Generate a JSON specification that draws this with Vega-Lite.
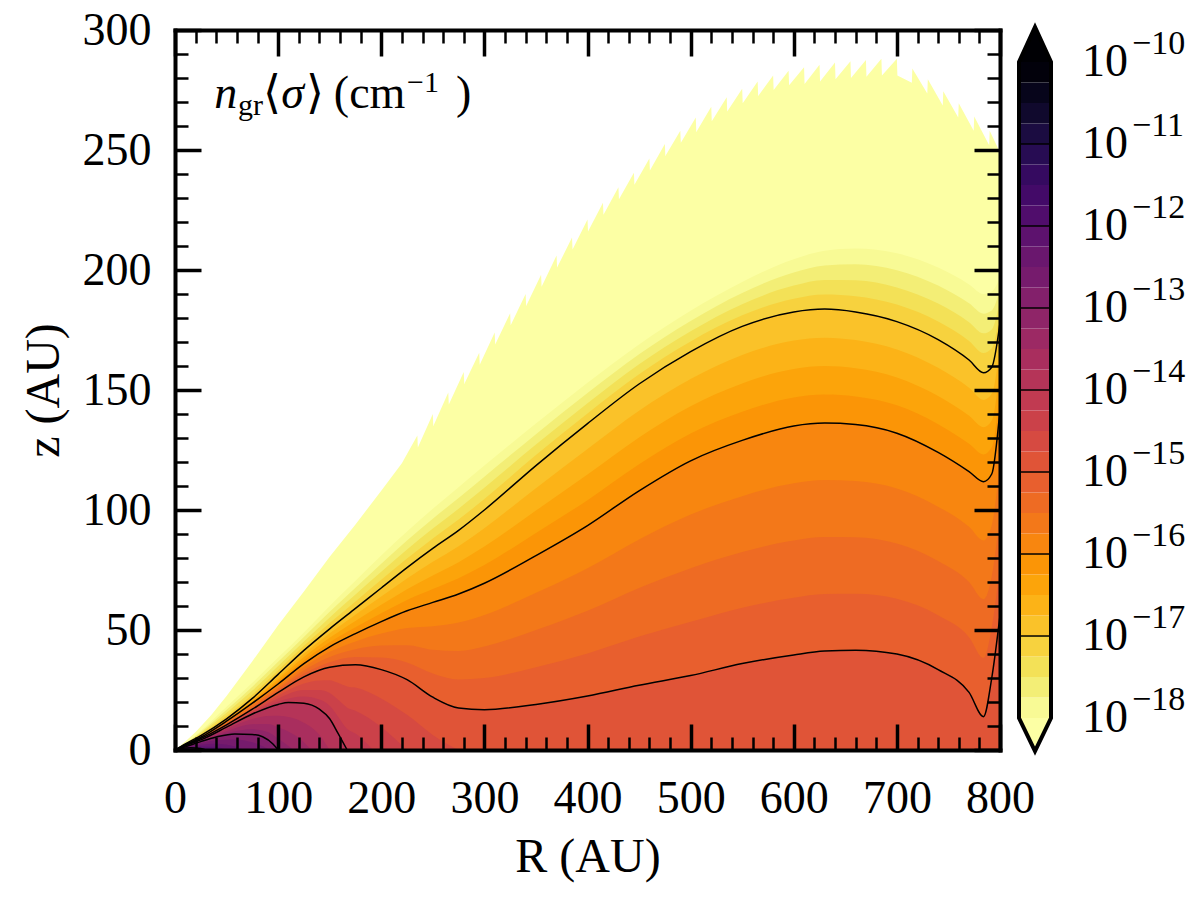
{
"$schema":"https://vega.github.io/schema/vega-lite/v6.json",
"background":"white",
"padding":{"left":20,"top":7,"right":5,"bottom":5},
"config":{"view":{"stroke":null},"font":"Liberation Serif","axis":{"grid":false,"labelColor":"black","titleColor":"black","titleFontWeight":"normal","labelFont":"Liberation Serif","titleFont":"Liberation Serif","domainColor":"black","tickColor":"black"}},
"datasets":{
"edge":[{"R":0,"z":0},{"R":10,"z":3.5},{"R":20,"z":7.5},{"R":35,"z":14.5},{"R":50,"z":22.5},{"R":75,"z":37},{"R":100,"z":52},{"R":125,"z":66},{"R":150,"z":80.5},{"R":175,"z":94},{"R":200,"z":108},{"R":220,"z":119.5},
{"R":235,"z":131},{"R":235.5,"z":126},{"R":250,"z":140},{"R":250.5,"z":135},{"R":265,"z":149},{"R":265.5,"z":144},{"R":280,"z":157.5},{"R":280.5,"z":152.5},{"R":295,"z":165.5},{"R":295.5,"z":160.5},{"R":310,"z":174},{"R":310.5,"z":169},{"R":325,"z":182},{"R":325.5,"z":177},{"R":340,"z":190},{"R":340.5,"z":185},{"R":355,"z":198},{"R":355.5,"z":193},{"R":370,"z":206},{"R":370.5,"z":201},{"R":385,"z":213.5},{"R":385.5,"z":208.5},{"R":400,"z":221},{"R":400.5,"z":216},{"R":415,"z":228},{"R":415.5,"z":223},{"R":430,"z":234.5},{"R":430.5,"z":229.5},{"R":445,"z":240.5},{"R":445.5,"z":235.5},{"R":460,"z":246.5},{"R":460.5,"z":241.5},{"R":475,"z":252.5},{"R":475.5,"z":247.5},{"R":490,"z":258},{"R":490.5,"z":253},{"R":505,"z":263.5},{"R":505.5,"z":257.5},{"R":520,"z":268},{"R":520.5,"z":262},{"R":535,"z":272},{"R":535.5,"z":266},{"R":550,"z":275.5},{"R":550.5,"z":269.5},{"R":565,"z":278.5},{"R":565.5,"z":272.5},{"R":580,"z":281},{"R":580.5,"z":275},{"R":595,"z":283},{"R":595.5,"z":277},{"R":610,"z":284.5},{"R":610.5,"z":277.5},{"R":625,"z":285.5},{"R":625.5,"z":278.5},{"R":640,"z":286.5},{"R":640.5,"z":279.5},{"R":655,"z":287},{"R":655.5,"z":280},{"R":670,"z":287.5},{"R":670.5,"z":280.5},{"R":685,"z":288},{"R":685.5,"z":281},{"R":700,"z":288},{"R":700.5,"z":281},
{"R":714.5,"z":278},{"R":715,"z":284},{"R":729.5,"z":273.5},{"R":730,"z":279.5},{"R":744.5,"z":268.5},{"R":745,"z":274.5},{"R":759.5,"z":263.5},{"R":760,"z":269.5},{"R":774.5,"z":258},{"R":775,"z":264},{"R":789.5,"z":252},{"R":790,"z":258},{"R":800,"z":249}],
"lv":[
{"lev":-18,"R":0,"z":0},{"lev":-18,"R":10,"z":2.7},{"lev":-18,"R":25,"z":8},{"lev":-18,"R":50,"z":18},{"lev":-18,"R":75,"z":28},{"lev":-18,"R":100,"z":38.5},{"lev":-18,"R":125,"z":49},{"lev":-18,"R":150,"z":60},{"lev":-18,"R":175,"z":70.5},{"lev":-18,"R":200,"z":81},{"lev":-18,"R":225,"z":91},{"lev":-18,"R":250,"z":100.5},{"lev":-18,"R":275,"z":109.5},{"lev":-18,"R":300,"z":118.5},{"lev":-18,"R":350,"z":136},{"lev":-18,"R":400,"z":153},{"lev":-18,"R":450,"z":169},{"lev":-18,"R":500,"z":183},{"lev":-18,"R":550,"z":195},{"lev":-18,"R":600,"z":204.5},{"lev":-18,"R":630,"z":208},{"lev":-18,"R":660,"z":209},{"lev":-18,"R":700,"z":207},{"lev":-18,"R":740,"z":201},{"lev":-18,"R":770,"z":194},{"lev":-18,"R":784,"z":190},{"lev":-18,"R":792,"z":191},{"lev":-18,"R":800,"z":197},
{"lev":-17.75,"R":0,"z":0},{"lev":-17.75,"R":10,"z":2.65},{"lev":-17.75,"R":25,"z":7.5},{"lev":-17.75,"R":50,"z":16.75},{"lev":-17.75,"R":75,"z":26.4},{"lev":-17.75,"R":100,"z":36.75},{"lev":-17.75,"R":125,"z":47.1},{"lev":-17.75,"R":150,"z":57.6},{"lev":-17.75,"R":175,"z":67.6},{"lev":-17.75,"R":200,"z":77.6},{"lev":-17.75,"R":225,"z":87.25},{"lev":-17.75,"R":250,"z":96.4},{"lev":-17.75,"R":275,"z":105},{"lev":-17.75,"R":300,"z":113.9},{"lev":-17.75,"R":350,"z":131.6},{"lev":-17.75,"R":400,"z":148.75},{"lev":-17.75,"R":450,"z":164.9},{"lev":-17.75,"R":500,"z":178.75},{"lev":-17.75,"R":550,"z":190.4},{"lev":-17.75,"R":600,"z":199},{"lev":-17.75,"R":630,"z":201.9},{"lev":-17.75,"R":660,"z":202.4},{"lev":-17.75,"R":700,"z":199.9},{"lev":-17.75,"R":740,"z":193.5},{"lev":-17.75,"R":770,"z":186.1},{"lev":-17.75,"R":784,"z":181.8},{"lev":-17.75,"R":792,"z":183.1},{"lev":-17.75,"R":800,"z":192.25},
{"lev":-17.5,"R":0,"z":0},{"lev":-17.5,"R":10,"z":2.6},{"lev":-17.5,"R":25,"z":7},{"lev":-17.5,"R":50,"z":15.5},{"lev":-17.5,"R":75,"z":24.75},{"lev":-17.5,"R":100,"z":35},{"lev":-17.5,"R":125,"z":45.25},{"lev":-17.5,"R":150,"z":55.25},{"lev":-17.5,"R":175,"z":64.75},{"lev":-17.5,"R":200,"z":74.25},{"lev":-17.5,"R":225,"z":83.5},{"lev":-17.5,"R":250,"z":92.25},{"lev":-17.5,"R":275,"z":100.5},{"lev":-17.5,"R":300,"z":109.25},{"lev":-17.5,"R":350,"z":127.25},{"lev":-17.5,"R":400,"z":144.5},{"lev":-17.5,"R":450,"z":160.75},{"lev":-17.5,"R":500,"z":174.5},{"lev":-17.5,"R":550,"z":185.75},{"lev":-17.5,"R":600,"z":193.5},{"lev":-17.5,"R":630,"z":195.85},{"lev":-17.5,"R":660,"z":195.75},{"lev":-17.5,"R":700,"z":192.75},{"lev":-17.5,"R":740,"z":186},{"lev":-17.5,"R":770,"z":178.25},{"lev":-17.5,"R":784,"z":173.6},{"lev":-17.5,"R":792,"z":175.25},{"lev":-17.5,"R":800,"z":187.5},
{"lev":-17.25,"R":0,"z":0},{"lev":-17.25,"R":10,"z":2.55},{"lev":-17.25,"R":25,"z":6.5},{"lev":-17.25,"R":50,"z":14.25},{"lev":-17.25,"R":75,"z":23.1},{"lev":-17.25,"R":100,"z":33.25},{"lev":-17.25,"R":125,"z":43.4},{"lev":-17.25,"R":150,"z":52.9},{"lev":-17.25,"R":175,"z":61.9},{"lev":-17.25,"R":200,"z":70.9},{"lev":-17.25,"R":225,"z":79.75},{"lev":-17.25,"R":250,"z":88.1},{"lev":-17.25,"R":275,"z":96},{"lev":-17.25,"R":300,"z":104.6},{"lev":-17.25,"R":350,"z":122.9},{"lev":-17.25,"R":400,"z":140.25},{"lev":-17.25,"R":450,"z":156.6},{"lev":-17.25,"R":500,"z":170.25},{"lev":-17.25,"R":550,"z":181.1},{"lev":-17.25,"R":600,"z":188},{"lev":-17.25,"R":630,"z":189.8},{"lev":-17.25,"R":660,"z":189.1},{"lev":-17.25,"R":700,"z":185.6},{"lev":-17.25,"R":740,"z":178.5},{"lev":-17.25,"R":770,"z":170.4},{"lev":-17.25,"R":784,"z":165.4},{"lev":-17.25,"R":792,"z":167.4},{"lev":-17.25,"R":800,"z":182.75},
{"lev":-17,"R":0,"z":0},{"lev":-17,"R":10,"z":2.5},{"lev":-17,"R":25,"z":6},{"lev":-17,"R":50,"z":13},{"lev":-17,"R":75,"z":21.5},{"lev":-17,"R":100,"z":31.5},{"lev":-17,"R":125,"z":41.5},{"lev":-17,"R":150,"z":50.5},{"lev":-17,"R":175,"z":59},{"lev":-17,"R":200,"z":67.5},{"lev":-17,"R":225,"z":76},{"lev":-17,"R":250,"z":84},{"lev":-17,"R":275,"z":91.5},{"lev":-17,"R":300,"z":100},{"lev":-17,"R":350,"z":118.5},{"lev":-17,"R":400,"z":136},{"lev":-17,"R":450,"z":152.5},{"lev":-17,"R":500,"z":166},{"lev":-17,"R":550,"z":176.5},{"lev":-17,"R":600,"z":182.5},{"lev":-17,"R":630,"z":183.7},{"lev":-17,"R":660,"z":182.5},{"lev":-17,"R":700,"z":178.5},{"lev":-17,"R":740,"z":171},{"lev":-17,"R":770,"z":162.5},{"lev":-17,"R":784,"z":157.2},{"lev":-17,"R":792,"z":159.5},{"lev":-17,"R":800,"z":178},
{"lev":-16.75,"R":0,"z":0},{"lev":-16.75,"R":10,"z":2.43},{"lev":-16.75,"R":25,"z":5.83},{"lev":-16.75,"R":50,"z":12.75},{"lev":-16.75,"R":75,"z":21},{"lev":-16.75,"R":100,"z":30.5},{"lev":-16.75,"R":125,"z":40.1},{"lev":-16.75,"R":150,"z":48.6},{"lev":-16.75,"R":175,"z":56.4},{"lev":-16.75,"R":200,"z":64},{"lev":-16.75,"R":225,"z":71.5},{"lev":-16.75,"R":250,"z":78.4},{"lev":-16.75,"R":275,"z":84.9},{"lev":-16.75,"R":300,"z":92.4},{"lev":-16.75,"R":350,"z":109.1},{"lev":-16.75,"R":400,"z":125.4},{"lev":-16.75,"R":450,"z":141.4},{"lev":-16.75,"R":500,"z":154.6},{"lev":-16.75,"R":550,"z":164.6},{"lev":-16.75,"R":600,"z":170.6},{"lev":-16.75,"R":630,"z":171.8},{"lev":-16.75,"R":660,"z":170.8},{"lev":-16.75,"R":700,"z":166.9},{"lev":-16.75,"R":740,"z":159.25},{"lev":-16.75,"R":770,"z":150.9},{"lev":-16.75,"R":784,"z":145.85},{"lev":-16.75,"R":792,"z":148.4},{"lev":-16.75,"R":800,"z":169},
{"lev":-16.5,"R":0,"z":0},{"lev":-16.5,"R":10,"z":2.35},{"lev":-16.5,"R":25,"z":5.65},{"lev":-16.5,"R":50,"z":12.5},{"lev":-16.5,"R":75,"z":20.5},{"lev":-16.5,"R":100,"z":29.5},{"lev":-16.5,"R":125,"z":38.75},{"lev":-16.5,"R":150,"z":46.75},{"lev":-16.5,"R":175,"z":53.75},{"lev":-16.5,"R":200,"z":60.5},{"lev":-16.5,"R":225,"z":67},{"lev":-16.5,"R":250,"z":72.75},{"lev":-16.5,"R":275,"z":78.25},{"lev":-16.5,"R":300,"z":84.75},{"lev":-16.5,"R":350,"z":99.75},{"lev":-16.5,"R":400,"z":114.75},{"lev":-16.5,"R":450,"z":130.25},{"lev":-16.5,"R":500,"z":143.25},{"lev":-16.5,"R":550,"z":152.75},{"lev":-16.5,"R":600,"z":158.75},{"lev":-16.5,"R":630,"z":159.95},{"lev":-16.5,"R":660,"z":159.05},{"lev":-16.5,"R":700,"z":155.25},{"lev":-16.5,"R":740,"z":147.5},{"lev":-16.5,"R":770,"z":139.25},{"lev":-16.5,"R":784,"z":134.5},{"lev":-16.5,"R":792,"z":137.25},{"lev":-16.5,"R":800,"z":160},
{"lev":-16.25,"R":0,"z":0},{"lev":-16.25,"R":10,"z":2.28},{"lev":-16.25,"R":25,"z":5.48},{"lev":-16.25,"R":50,"z":12.25},{"lev":-16.25,"R":75,"z":20},{"lev":-16.25,"R":100,"z":28.5},{"lev":-16.25,"R":125,"z":37.4},{"lev":-16.25,"R":150,"z":44.9},{"lev":-16.25,"R":175,"z":51.1},{"lev":-16.25,"R":200,"z":57},{"lev":-16.25,"R":225,"z":62.5},{"lev":-16.25,"R":250,"z":67.1},{"lev":-16.25,"R":275,"z":71.6},{"lev":-16.25,"R":300,"z":77.1},{"lev":-16.25,"R":350,"z":90.4},{"lev":-16.25,"R":400,"z":104.1},{"lev":-16.25,"R":450,"z":119.1},{"lev":-16.25,"R":500,"z":131.9},{"lev":-16.25,"R":550,"z":140.9},{"lev":-16.25,"R":600,"z":146.9},{"lev":-16.25,"R":630,"z":148.1},{"lev":-16.25,"R":660,"z":147.3},{"lev":-16.25,"R":700,"z":143.6},{"lev":-16.25,"R":740,"z":135.75},{"lev":-16.25,"R":770,"z":127.6},{"lev":-16.25,"R":784,"z":123.15},{"lev":-16.25,"R":792,"z":126.1},{"lev":-16.25,"R":800,"z":151},
{"lev":-16,"R":0,"z":0},{"lev":-16,"R":10,"z":2.2},{"lev":-16,"R":25,"z":5.3},{"lev":-16,"R":50,"z":12},{"lev":-16,"R":75,"z":19.5},{"lev":-16,"R":100,"z":27.5},{"lev":-16,"R":125,"z":36},{"lev":-16,"R":150,"z":43},{"lev":-16,"R":175,"z":48.5},{"lev":-16,"R":200,"z":53.5},{"lev":-16,"R":225,"z":58},{"lev":-16,"R":250,"z":61.5},{"lev":-16,"R":275,"z":65},{"lev":-16,"R":300,"z":69.5},{"lev":-16,"R":350,"z":81},{"lev":-16,"R":400,"z":93.5},{"lev":-16,"R":450,"z":108},{"lev":-16,"R":500,"z":120.5},{"lev":-16,"R":550,"z":129},{"lev":-16,"R":600,"z":135},{"lev":-16,"R":630,"z":136.2},{"lev":-16,"R":660,"z":135.6},{"lev":-16,"R":700,"z":132},{"lev":-16,"R":740,"z":124},{"lev":-16,"R":770,"z":116},{"lev":-16,"R":784,"z":111.8},{"lev":-16,"R":792,"z":115},{"lev":-16,"R":800,"z":142},
{"lev":-15.75,"R":0,"z":0},{"lev":-15.75,"R":10,"z":2.15},{"lev":-15.75,"R":25,"z":5.18},{"lev":-15.75,"R":50,"z":11.6},{"lev":-15.75,"R":75,"z":18.9},{"lev":-15.75,"R":100,"z":26.6},{"lev":-15.75,"R":125,"z":34.6},{"lev":-15.75,"R":150,"z":40.9},{"lev":-15.75,"R":175,"z":45.25},{"lev":-15.75,"R":200,"z":48.5},{"lev":-15.75,"R":225,"z":50.8},{"lev":-15.75,"R":250,"z":51.6},{"lev":-15.75,"R":275,"z":53.1},{"lev":-15.75,"R":300,"z":56.3},{"lev":-15.75,"R":350,"z":65.5},{"lev":-15.75,"R":400,"z":75.75},{"lev":-15.75,"R":450,"z":87.75},{"lev":-15.75,"R":500,"z":98.1},{"lev":-15.75,"R":550,"z":105.75},{"lev":-15.75,"R":600,"z":111.15},{"lev":-15.75,"R":630,"z":112.45},{"lev":-15.75,"R":660,"z":112.1},{"lev":-15.75,"R":700,"z":109},{"lev":-15.75,"R":740,"z":101.4},{"lev":-15.75,"R":770,"z":93},{"lev":-15.75,"R":784,"z":87.3},{"lev":-15.75,"R":792,"z":93.75},{"lev":-15.75,"R":800,"z":120.5},
{"lev":-15.5,"R":0,"z":0},{"lev":-15.5,"R":10,"z":2.1},{"lev":-15.5,"R":25,"z":5.05},{"lev":-15.5,"R":50,"z":11.25},{"lev":-15.5,"R":75,"z":18.25},{"lev":-15.5,"R":100,"z":25.75},{"lev":-15.5,"R":125,"z":33.25},{"lev":-15.5,"R":150,"z":38.75},{"lev":-15.5,"R":175,"z":42},{"lev":-15.5,"R":200,"z":43.5},{"lev":-15.5,"R":225,"z":43.65},{"lev":-15.5,"R":250,"z":41.75},{"lev":-15.5,"R":275,"z":41.25},{"lev":-15.5,"R":300,"z":43.15},{"lev":-15.5,"R":350,"z":50},{"lev":-15.5,"R":400,"z":58},{"lev":-15.5,"R":450,"z":67.5},{"lev":-15.5,"R":500,"z":75.75},{"lev":-15.5,"R":550,"z":82.5},{"lev":-15.5,"R":600,"z":87.3},{"lev":-15.5,"R":630,"z":88.7},{"lev":-15.5,"R":660,"z":88.6},{"lev":-15.5,"R":700,"z":86},{"lev":-15.5,"R":740,"z":78.75},{"lev":-15.5,"R":770,"z":70},{"lev":-15.5,"R":784,"z":62.85},{"lev":-15.5,"R":792,"z":72.5},{"lev":-15.5,"R":800,"z":99},
{"lev":-15.25,"R":0,"z":0},{"lev":-15.25,"R":10,"z":2.05},{"lev":-15.25,"R":25,"z":4.93},{"lev":-15.25,"R":50,"z":10.9},{"lev":-15.25,"R":75,"z":17.6},{"lev":-15.25,"R":100,"z":24.9},{"lev":-15.25,"R":125,"z":31.9},{"lev":-15.25,"R":150,"z":36.6},{"lev":-15.25,"R":175,"z":38.75},{"lev":-15.25,"R":200,"z":38.5},{"lev":-15.25,"R":225,"z":36.5},{"lev":-15.25,"R":250,"z":31.9},{"lev":-15.25,"R":275,"z":29.4},{"lev":-15.25,"R":300,"z":30},{"lev":-15.25,"R":350,"z":34.5},{"lev":-15.25,"R":400,"z":40.25},{"lev":-15.25,"R":450,"z":47.25},{"lev":-15.25,"R":500,"z":53.4},{"lev":-15.25,"R":550,"z":59.25},{"lev":-15.25,"R":600,"z":63.45},{"lev":-15.25,"R":630,"z":64.95},{"lev":-15.25,"R":660,"z":65.1},{"lev":-15.25,"R":700,"z":63},{"lev":-15.25,"R":740,"z":56.1},{"lev":-15.25,"R":770,"z":47},{"lev":-15.25,"R":784,"z":38.4},{"lev":-15.25,"R":792,"z":51.25},{"lev":-15.25,"R":800,"z":77.5},
{"lev":-15,"R":0,"z":0},{"lev":-15,"R":10,"z":2},{"lev":-15,"R":25,"z":4.8},{"lev":-15,"R":50,"z":10.5},{"lev":-15,"R":75,"z":17},{"lev":-15,"R":100,"z":24},{"lev":-15,"R":125,"z":30.5},{"lev":-15,"R":150,"z":34.5},{"lev":-15,"R":175,"z":35.5},{"lev":-15,"R":200,"z":33.5},{"lev":-15,"R":225,"z":29.3},{"lev":-15,"R":250,"z":22},{"lev":-15,"R":275,"z":17.5},{"lev":-15,"R":300,"z":16.8},{"lev":-15,"R":350,"z":19},{"lev":-15,"R":400,"z":22.5},{"lev":-15,"R":450,"z":27},{"lev":-15,"R":500,"z":31},{"lev":-15,"R":550,"z":36},{"lev":-15,"R":600,"z":39.6},{"lev":-15,"R":630,"z":41.2},{"lev":-15,"R":660,"z":41.6},{"lev":-15,"R":700,"z":40},{"lev":-15,"R":740,"z":33.5},{"lev":-15,"R":770,"z":24},{"lev":-15,"R":784,"z":13.9},{"lev":-15,"R":792,"z":30},{"lev":-15,"R":800,"z":56},
{"lev":-14.75,"R":0,"z":0},{"lev":-14.75,"R":10,"z":1.95},{"lev":-14.75,"R":25,"z":4.65},{"lev":-14.75,"R":50,"z":10.25},{"lev":-14.75,"R":75,"z":16.5},{"lev":-14.75,"R":100,"z":22.75},{"lev":-14.75,"R":125,"z":27.75},{"lev":-14.75,"R":140,"z":29},{"lev":-14.75,"R":150,"z":29.1},{"lev":-14.75,"R":158,"z":28},{"lev":-14.75,"R":167,"z":26.5},{"lev":-14.75,"R":175,"z":26},{"lev":-14.75,"R":200,"z":21.5},{"lev":-14.75,"R":225,"z":14.65},{"lev":-14.75,"R":250,"z":6.3},{"lev":-14.75,"R":275,"z":0},
{"lev":-14.5,"R":0,"z":0},{"lev":-14.5,"R":10,"z":1.9},{"lev":-14.5,"R":25,"z":4.5},{"lev":-14.5,"R":50,"z":10},{"lev":-14.5,"R":75,"z":16},{"lev":-14.5,"R":100,"z":21.5},{"lev":-14.5,"R":125,"z":25},{"lev":-14.5,"R":140,"z":25},{"lev":-14.5,"R":150,"z":23.75},{"lev":-14.5,"R":158,"z":21},{"lev":-14.5,"R":167,"z":17.65},{"lev":-14.5,"R":175,"z":16.4},{"lev":-14.5,"R":200,"z":9.6},{"lev":-14.5,"R":225,"z":0},
{"lev":-14.25,"R":0,"z":0},{"lev":-14.25,"R":10,"z":1.85},{"lev":-14.25,"R":25,"z":4.35},{"lev":-14.25,"R":50,"z":9.75},{"lev":-14.25,"R":75,"z":15.5},{"lev":-14.25,"R":100,"z":20.25},{"lev":-14.25,"R":125,"z":22.25},{"lev":-14.25,"R":140,"z":21},{"lev":-14.25,"R":150,"z":18.4},{"lev":-14.25,"R":158,"z":14},{"lev":-14.25,"R":167,"z":8.8},{"lev":-14.25,"R":175,"z":6.9},{"lev":-14.25,"R":192,"z":0},
{"lev":-14,"R":0,"z":0},{"lev":-14,"R":10,"z":1.8},{"lev":-14,"R":25,"z":4.2},{"lev":-14,"R":50,"z":9.5},{"lev":-14,"R":75,"z":15},{"lev":-14,"R":100,"z":19},{"lev":-14,"R":110,"z":19.8},{"lev":-14,"R":125,"z":19.5},{"lev":-14,"R":140,"z":17},{"lev":-14,"R":150,"z":13},{"lev":-14,"R":158,"z":7},{"lev":-14,"R":167,"z":0},
{"lev":-13.75,"R":0,"z":0},{"lev":-13.75,"R":10,"z":1.68},{"lev":-13.75,"R":25,"z":4.03},{"lev":-13.75,"R":50,"z":8.7},{"lev":-13.75,"R":75,"z":12.9},{"lev":-13.75,"R":90,"z":14.2},{"lev":-13.75,"R":100,"z":14.25},{"lev":-13.75,"R":125,"z":11.4},{"lev":-13.75,"R":140,"z":6.4},{"lev":-13.75,"R":150,"z":0},
{"lev":-13.5,"R":0,"z":0},{"lev":-13.5,"R":10,"z":1.55},{"lev":-13.5,"R":25,"z":3.85},{"lev":-13.5,"R":50,"z":7.85},{"lev":-13.5,"R":75,"z":10.75},{"lev":-13.5,"R":90,"z":10.85},{"lev":-13.5,"R":100,"z":9.5},{"lev":-13.5,"R":125,"z":3.25},{"lev":-13.5,"R":132,"z":0},
{"lev":-13.25,"R":0,"z":0},{"lev":-13.25,"R":10,"z":1.43},{"lev":-13.25,"R":25,"z":3.68},{"lev":-13.25,"R":50,"z":7},{"lev":-13.25,"R":75,"z":8.6},{"lev":-13.25,"R":90,"z":7.5},{"lev":-13.25,"R":100,"z":4.75},{"lev":-13.25,"R":115,"z":0},
{"lev":-13,"R":0,"z":0},{"lev":-13,"R":10,"z":1.3},{"lev":-13,"R":25,"z":3.5},{"lev":-13,"R":40,"z":5.4},{"lev":-13,"R":58,"z":6.7},{"lev":-13,"R":75,"z":6.5},{"lev":-13,"R":85,"z":5.5},{"lev":-13,"R":95,"z":2.5},{"lev":-13,"R":100,"z":0},
{"lev":-12.75,"R":0,"z":0},{"lev":-12.75,"R":10,"z":1.1},{"lev":-12.75,"R":25,"z":2.9},{"lev":-12.75,"R":40,"z":4.1},{"lev":-12.75,"R":58,"z":4.4},{"lev":-12.75,"R":75,"z":3.2},{"lev":-12.75,"R":85,"z":1.6},{"lev":-12.75,"R":92,"z":0},
{"lev":-12.5,"R":0,"z":0},{"lev":-12.5,"R":10,"z":0.95},{"lev":-12.5,"R":25,"z":2.2},{"lev":-12.5,"R":40,"z":2.6},{"lev":-12.5,"R":58,"z":1.5},{"lev":-12.5,"R":68,"z":0},
{"lev":-12.25,"R":0,"z":0},{"lev":-12.25,"R":10,"z":0.8},{"lev":-12.25,"R":25,"z":1.5},{"lev":-12.25,"R":40,"z":1.2},{"lev":-12.25,"R":50,"z":0},
{"lev":-12,"R":0,"z":0},{"lev":-12,"R":5,"z":0.6},{"lev":-12,"R":15,"z":0.9},{"lev":-12,"R":25,"z":0.6},{"lev":-12,"R":30,"z":0}
],
"cb":[{"lev":-18,"top":-17.75},{"lev":-17.75,"top":-17.5},{"lev":-17.5,"top":-17.25},{"lev":-17.25,"top":-17},{"lev":-17,"top":-16.75},{"lev":-16.75,"top":-16.5},{"lev":-16.5,"top":-16.25},{"lev":-16.25,"top":-16},{"lev":-16,"top":-15.75},{"lev":-15.75,"top":-15.5},{"lev":-15.5,"top":-15.25},{"lev":-15.25,"top":-15},{"lev":-15,"top":-14.75},{"lev":-14.75,"top":-14.5},{"lev":-14.5,"top":-14.25},{"lev":-14.25,"top":-14},{"lev":-14,"top":-13.75},{"lev":-13.75,"top":-13.5},{"lev":-13.5,"top":-13.25},{"lev":-13.25,"top":-13},{"lev":-13,"top":-12.75},{"lev":-12.75,"top":-12.5},{"lev":-12.5,"top":-12.25},{"lev":-12.25,"top":-12},{"lev":-12,"top":-11.75},{"lev":-11.75,"top":-11.5},{"lev":-11.5,"top":-11.25},{"lev":-11.25,"top":-11},{"lev":-11,"top":-10.75},{"lev":-10.75,"top":-10.5},{"lev":-10.5,"top":-10.25},{"lev":-10.25,"top":-10}],
"dec":[{"e":-18,"t":"−18"},{"e":-17,"t":"−17"},{"e":-16,"t":"−16"},{"e":-15,"t":"−15"},{"e":-14,"t":"−14"},{"e":-13,"t":"−13"},{"e":-12,"t":"−12"},{"e":-11,"t":"−11"},{"e":-10,"t":"−10"}],
"tri":[{"lev":-10,"x":0,"y":-10,"b":-10},{"lev":-10,"x":0.5,"y":-9.575,"b":-10},{"lev":-10,"x":1,"y":-10,"b":-10},{"lev":-18.5,"x":0,"y":-18,"b":-18},{"lev":-18.5,"x":0.5,"y":-18.405,"b":-18},{"lev":-18.5,"x":1,"y":-18,"b":-18}],
"outline":[{"i":0,"x":0,"y":-14},{"i":1,"x":0,"y":-10},{"i":2,"x":0.5,"y":-9.575},{"i":3,"x":1,"y":-10},{"i":4,"x":1,"y":-18},{"i":5,"x":0.5,"y":-18.405},{"i":6,"x":0,"y":-18},{"i":7,"x":0,"y":-14}]
},
"spacing":19,
"bounds":"flush",
"resolve":{"scale":{"x":"independent","y":"independent","color":"shared"}},
"hconcat":[
{
"width":825,"height":720,
"resolve":{"axis":{"x":"independent","y":"independent"}},
"layer":[
{"data":{"name":"edge"},"mark":{"type":"area","color":"#fcffa4","clip":true},
"encoding":{
"x":{"field":"R","type":"quantitative","scale":{"domain":[0,800],"nice":false,"zero":false},
"axis":{"orient":"bottom","values":[0,100,200,300,400,500,600,700,800],"ticks":false,"domain":false,"labelFontSize":46,"labelPadding":26,"labelFlush":false,"labelOverlap":false,"title":"R (AU)","titleFontSize":48,"titlePadding":12,"zindex":1}},
"y":{"field":"z","type":"quantitative","scale":{"domain":[0,300],"nice":false,"zero":false},
"axis":{"orient":"left","values":[0,50,100,150,200,250,300],"ticks":false,"domain":false,"labelFontSize":46,"labelPadding":24,"labelFlush":false,"labelOverlap":false,"title":"z (AU)","titleFontSize":48,"titlePadding":14,"zindex":1}}}},
{"data":{"name":"lv"},"mark":{"type":"area","clip":true,"interpolate":"monotone"},
"encoding":{
"x":{"field":"R","type":"quantitative","scale":{"domain":[0,800],"nice":false,"zero":false},
"axis":{"orient":"bottom","values":[0,20,40,60,80,100,120,140,160,180,200,220,240,260,280,300,320,340,360,380,400,420,440,460,480,500,520,540,560,580,600,620,640,660,680,700,720,740,760,780,800],"labels":false,"title":null,"domain":true,"domainWidth":4,"domainCap":"square","tickSize":{"condition":{"test":"datum.value % 100 === 0","value":-26},"value":-13},"tickWidth":{"condition":{"test":"datum.value % 100 === 0","value":3.5},"value":2.5},"zindex":2}},
"y":{"field":"z","type":"quantitative","stack":null,"scale":{"domain":[0,300],"nice":false,"zero":false},
"axis":{"orient":"left","values":[0,10,20,30,40,50,60,70,80,90,100,110,120,130,140,150,160,170,180,190,200,210,220,230,240,250,260,270,280,290,300],"labels":false,"title":null,"domain":true,"domainWidth":4,"domainCap":"square","tickSize":{"condition":{"test":"datum.value % 50 === 0","value":-26},"value":-13},"tickWidth":{"condition":{"test":"datum.value % 50 === 0","value":3.5},"value":2.5},"zindex":2}},
"color":{"field":"lev","type":"quantitative","scale":{"domain":[-18.125,-10.125],"scheme":"inferno","reverse":true,"clamp":true,"zero":false,"nice":false},"legend":null},
"detail":{"field":"lev","type":"quantitative"}}},
{"data":{"name":"lv"},"transform":[{"filter":{"field":"lev","oneOf":[-17,-16,-15,-14,-13,-12]}}],
"mark":{"type":"line","color":"black","strokeWidth":1.5,"clip":true,"interpolate":"monotone"},
"encoding":{
"x":{"field":"R","type":"quantitative","scale":{"domain":[0,800],"nice":false,"zero":false},
"axis":{"orient":"top","values":[0,20,40,60,80,100,120,140,160,180,200,220,240,260,280,300,320,340,360,380,400,420,440,460,480,500,520,540,560,580,600,620,640,660,680,700,720,740,760,780,800],"labels":false,"title":null,"domain":true,"domainWidth":4,"domainCap":"square","tickSize":{"condition":{"test":"datum.value % 100 === 0","value":-26},"value":-13},"tickWidth":{"condition":{"test":"datum.value % 100 === 0","value":3.5},"value":2.5},"zindex":2}},
"y":{"field":"z","type":"quantitative","scale":{"domain":[0,300],"nice":false,"zero":false},
"axis":{"orient":"right","values":[0,10,20,30,40,50,60,70,80,90,100,110,120,130,140,150,160,170,180,190,200,210,220,230,240,250,260,270,280,290,300],"labels":false,"title":null,"domain":true,"domainWidth":4,"domainCap":"square","tickSize":{"condition":{"test":"datum.value % 50 === 0","value":-26},"value":-13},"tickWidth":{"condition":{"test":"datum.value % 50 === 0","value":3.5},"value":2.5},"zindex":2}},
"detail":{"field":"lev","type":"quantitative"}}},
{"data":{"values":[{}]},"mark":{"type":"text","text":"n","fontStyle":"italic","fontSize":46,"align":"left","baseline":"alphabetic","color":"black"},
"encoding":{"x":{"datum":38,"type":"quantitative","axis":null},"y":{"datum":267.5,"type":"quantitative","axis":null}}},
{"data":{"values":[{}]},"mark":{"type":"text","text":"gr","fontSize":30,"align":"left","baseline":"alphabetic","color":"black"},
"encoding":{"x":{"datum":61,"type":"quantitative","axis":null},"y":{"datum":264.6,"type":"quantitative","axis":null}}},
{"data":{"values":[{}]},"mark":{"type":"text","text":"⟨","fontSize":46,"align":"left","baseline":"alphabetic","color":"black"},
"encoding":{"x":{"datum":85.5,"type":"quantitative","axis":null},"y":{"datum":267.5,"type":"quantitative","axis":null}}},
{"data":{"values":[{}]},"mark":{"type":"text","text":"σ","fontStyle":"italic","fontSize":46,"align":"left","baseline":"alphabetic","color":"black"},
"encoding":{"x":{"datum":103,"type":"quantitative","axis":null},"y":{"datum":267.5,"type":"quantitative","axis":null}}},
{"data":{"values":[{}]},"mark":{"type":"text","text":"⟩","fontSize":46,"align":"left","baseline":"alphabetic","color":"black"},
"encoding":{"x":{"datum":127.5,"type":"quantitative","axis":null},"y":{"datum":267.5,"type":"quantitative","axis":null}}},
{"data":{"values":[{}]},"mark":{"type":"text","text":"(cm","fontSize":46,"align":"left","baseline":"alphabetic","color":"black"},
"encoding":{"x":{"datum":154,"type":"quantitative","axis":null},"y":{"datum":267.5,"type":"quantitative","axis":null}}},
{"data":{"values":[{}]},"mark":{"type":"text","text":"−1","fontSize":30,"align":"left","baseline":"alphabetic","color":"black"},
"encoding":{"x":{"datum":225,"type":"quantitative","axis":null},"y":{"datum":274.3,"type":"quantitative","axis":null}}},
{"data":{"values":[{}]},"mark":{"type":"text","text":")","fontSize":46,"align":"left","baseline":"alphabetic","color":"black"},
"encoding":{"x":{"datum":272.5,"type":"quantitative","axis":null},"y":{"datum":267.5,"type":"quantitative","axis":null}}}
]
},
{
"width":32,"height":720,
"layer":[
{"data":{"name":"cb"},"mark":{"type":"rect"},
"encoding":{
"x":{"datum":0,"type":"quantitative","scale":{"domain":[0,1],"nice":false,"zero":false},"axis":null},
"x2":{"datum":1},
"y":{"field":"lev","type":"quantitative","scale":{"domain":[-18.39,-9.61],"nice":false,"zero":false},"axis":null},
"y2":{"field":"top"},
"color":{"field":"lev","type":"quantitative","scale":{"domain":[-18.125,-10.125],"scheme":"inferno","reverse":true,"clamp":true,"zero":false,"nice":false},"legend":null}}},
{"data":{"name":"tri"},"mark":{"type":"area"},
"encoding":{
"x":{"field":"x","type":"quantitative","axis":null},
"y":{"field":"y","type":"quantitative","stack":null,"axis":null},
"y2":{"field":"b"},
"color":{"field":"lev","type":"quantitative","legend":null},
"detail":{"field":"lev","type":"quantitative"}}},
{"data":{"name":"dec"},"transform":[{"filter":"datum.e > -18 && datum.e < -10"}],
"mark":{"type":"rule","color":"black","strokeWidth":1.5},
"encoding":{"y":{"field":"e","type":"quantitative","axis":null}}},
{"data":{"name":"outline"},"mark":{"type":"line","color":"black","strokeWidth":4,"strokeJoin":"miter"},
"encoding":{
"x":{"field":"x","type":"quantitative","axis":null},
"y":{"field":"y","type":"quantitative","axis":null},
"order":{"field":"i","type":"quantitative"}}},
{"data":{"name":"dec"},"mark":{"type":"text","text":"10","align":"left","baseline":"middle","dx":31,"fontSize":46,"color":"black"},
"encoding":{
"x":{"datum":1,"type":"quantitative","axis":null},
"y":{"field":"e","type":"quantitative","axis":null}}},
{"data":{"name":"dec"},"mark":{"type":"text","align":"left","baseline":"middle","dx":81,"dy":-18,"fontSize":34,"color":"black"},
"encoding":{
"x":{"datum":1,"type":"quantitative","axis":null},
"y":{"field":"e","type":"quantitative","axis":null},
"text":{"field":"t"}}}
]
}
]
}
